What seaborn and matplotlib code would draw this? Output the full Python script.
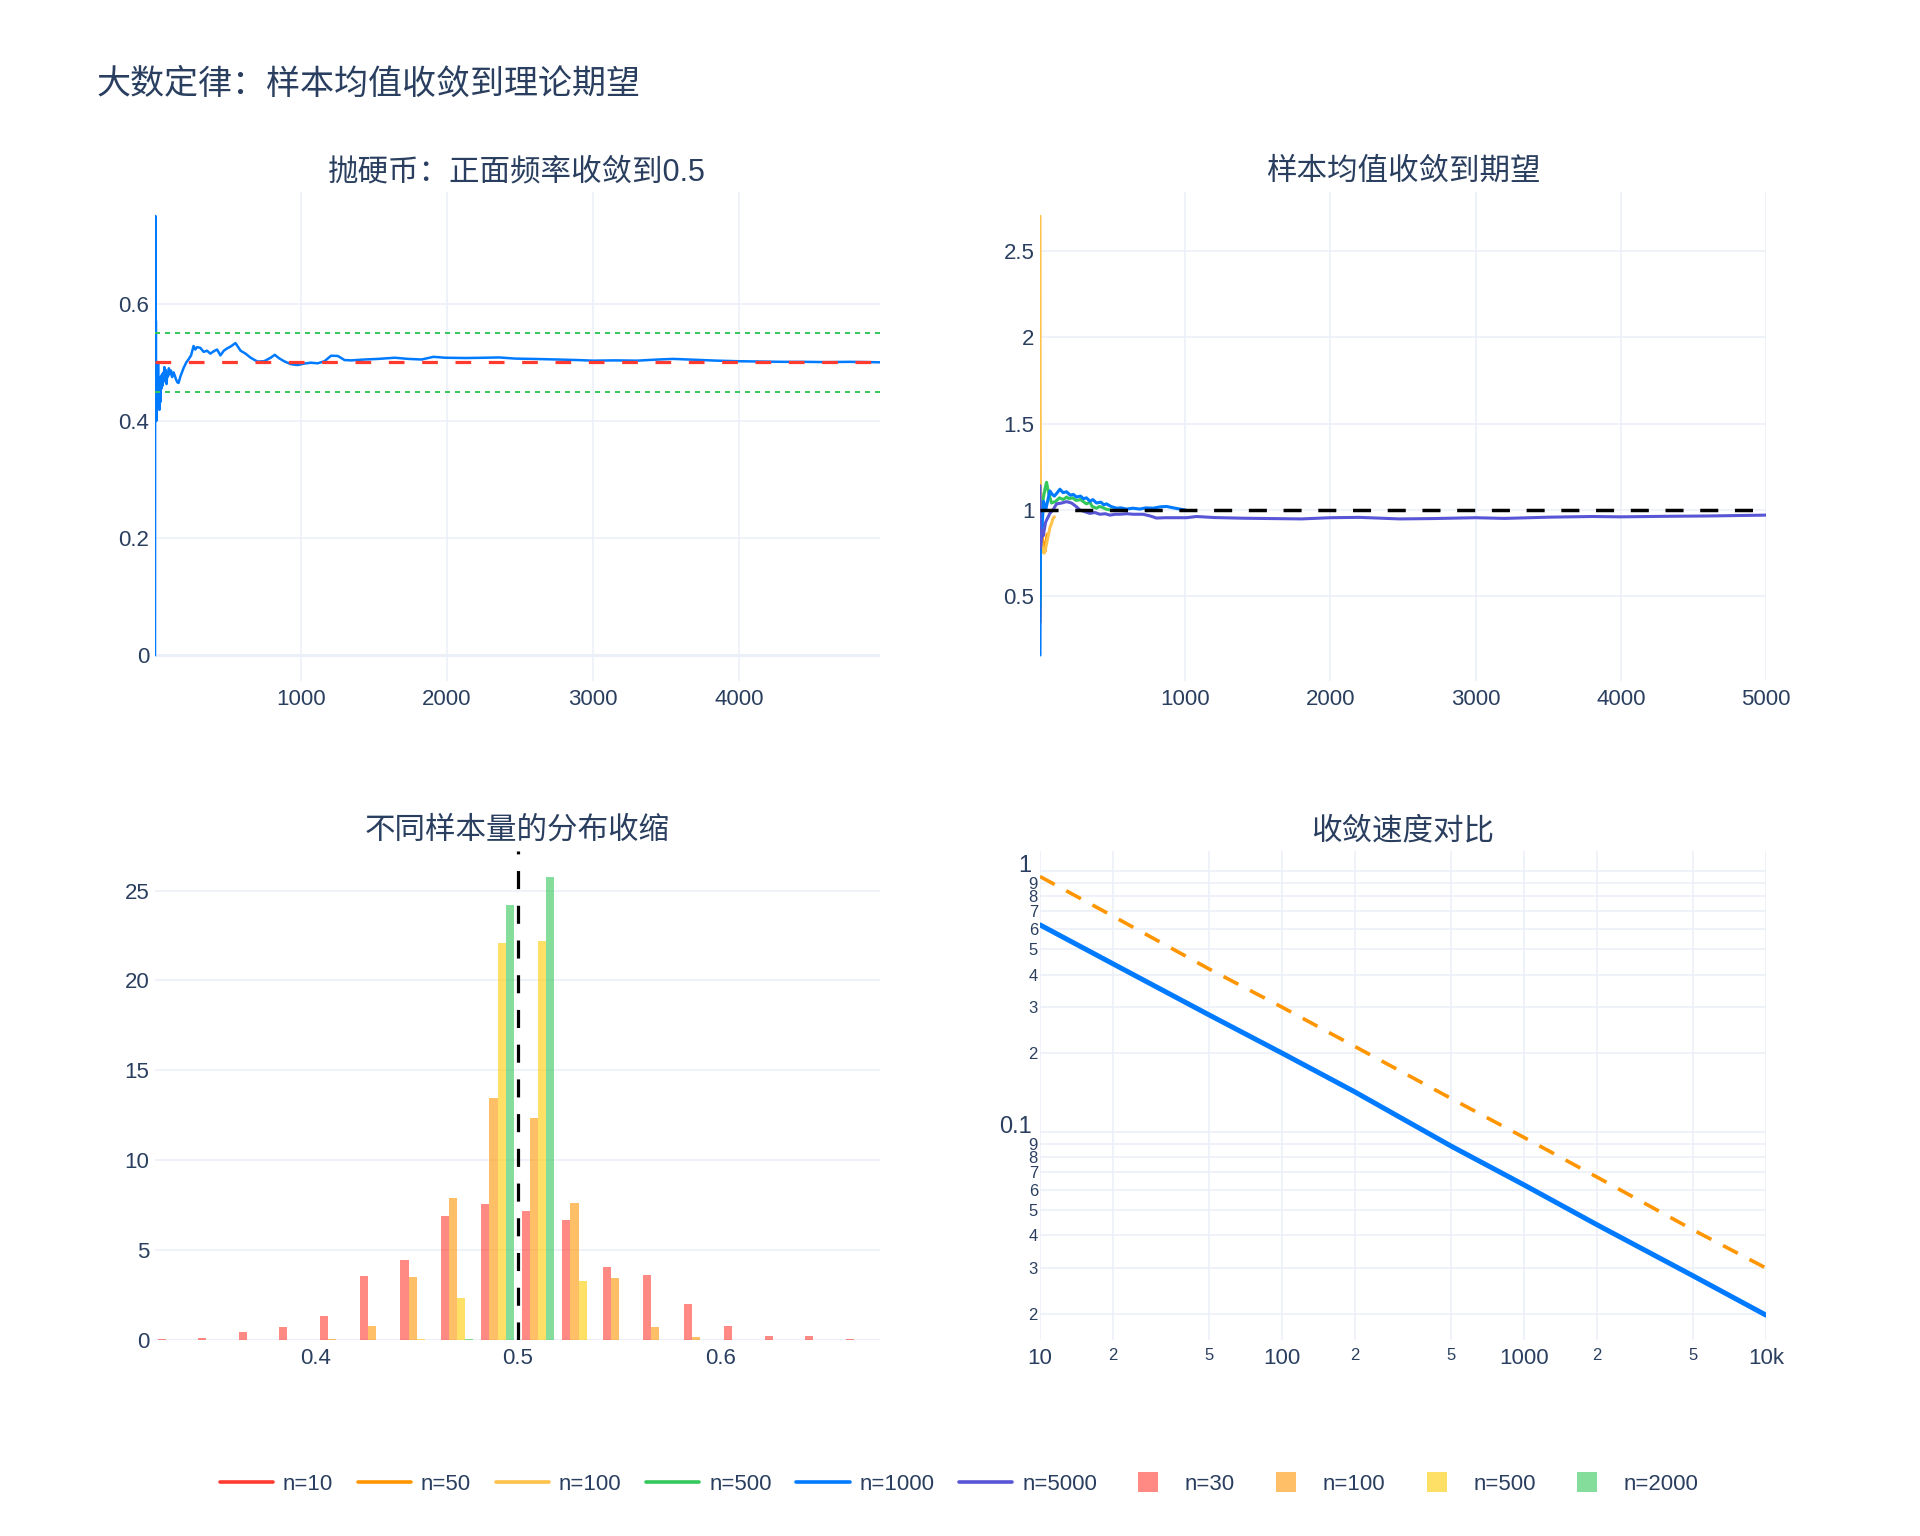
"""
Law of large numbers dashboard: coin-flip frequency, running means,
sampling distributions and convergence rate (2x2 panels, plotly-white look).
"""
import matplotlib
matplotlib.use("Agg")
import matplotlib.pyplot as plt
import matplotlib.transforms as mtransforms
from matplotlib.lines import Line2D
import pandas as pd
import seaborn as sns

# ---------------------------------------------------------------- data
# panel 1: running frequency of heads
coin_n = [
    1, 2, 3, 4, 5, 6, 7, 8, 9, 10,
    11, 12, 13, 14, 15, 16, 18, 20, 22, 24,
    26, 28, 31, 34, 37, 40, 44, 48, 52, 56,
    60, 65, 70, 75, 80, 85, 90, 96, 102, 110,
    118, 127, 136, 145, 154, 162, 175, 196, 215, 230,
    248, 265, 277, 288, 311, 334, 357, 380, 403, 426,
    449, 472, 495, 518, 552, 587, 621, 656, 702, 748,
    793, 821, 851, 885, 931, 977, 1023, 1069, 1115, 1161,
    1207, 1253, 1299, 1345, 1437, 1529, 1643, 1735, 1827, 1907,
    1988, 2126, 2263, 2355, 2470, 2585, 2750, 2900, 3000, 3150,
    3300, 3450, 3550, 3700, 3850, 4000, 4150, 4300, 4450, 4600,
    4750, 4900, 5000]
coin_freq = [
    0.0, 0.5, 0.667, 0.75, 0.6, 0.5, 0.571, 0.5, 0.444, 0.4,
    0.455, 0.417, 0.462, 0.429, 0.467, 0.438, 0.5, 0.45, 0.5, 0.458,
    0.423, 0.464, 0.419, 0.47, 0.432, 0.475, 0.455, 0.479, 0.46, 0.482,
    0.467, 0.492, 0.471, 0.487, 0.463, 0.482, 0.476, 0.49, 0.48, 0.486,
    0.475, 0.483, 0.478, 0.471, 0.466, 0.465, 0.476, 0.49, 0.5, 0.505,
    0.512, 0.528, 0.522, 0.526, 0.525, 0.518, 0.52, 0.515, 0.519, 0.522,
    0.512, 0.52, 0.524, 0.527, 0.533, 0.52, 0.515, 0.508, 0.5015, 0.502,
    0.508, 0.513, 0.507, 0.502, 0.497, 0.4955, 0.498, 0.4995, 0.4985, 0.502,
    0.5115, 0.511, 0.504, 0.5035, 0.505, 0.506, 0.508, 0.506, 0.505, 0.5095,
    0.508, 0.5075, 0.508, 0.5085, 0.5065, 0.506, 0.505, 0.504, 0.503, 0.5035,
    0.503, 0.505, 0.506, 0.5045, 0.503, 0.502, 0.5015, 0.501, 0.501, 0.5005,
    0.501, 0.5005, 0.5]

# panel 2: running sample mean (exponential, E = 1) for several n
mean_n10_x = [1, 2, 3, 4, 5, 6, 7, 8, 9, 10]
mean_n10_y = [0.35, 0.62, 0.9, 0.78, 1.05, 0.95, 0.88, 1.0, 0.93, 0.97]
mean_n50_x = [1, 3, 6, 10, 15, 20, 25, 30, 35, 40, 45, 50]
mean_n50_y = [0.55, 0.9, 1.1, 0.95, 0.88, 0.82, 0.8, 0.78, 0.76, 0.8, 0.83, 0.86]
mean_n100_x = [1, 2, 4, 7, 10, 15, 20, 30, 40, 50, 60, 70, 80, 90, 100]
mean_n100_y = [2.70, 1.6, 1.15, 0.95, 0.85, 0.8, 0.76, 0.75, 0.78, 0.82,
               0.86, 0.9, 0.92, 0.95, 0.96]
mean_n500_x = [1, 3, 6, 10, 20, 35, 46, 60, 80, 110, 135, 161, 185, 200,
               225, 250, 280, 321, 345, 360, 390, 410, 430, 455, 482, 500]
mean_n500_y = [0.44, 0.6, 0.85, 0.95, 1.05, 1.12, 1.16, 1.1, 1.04, 1.05,
               1.07, 1.06, 1.075, 1.065, 1.07, 1.055, 1.06, 1.035, 1.045,
               1.02, 1.01, 1.02, 1.015, 1.005, 1.0, 1.0]
mean_n1000_x = [1, 2, 4, 8, 15, 25, 40, 69, 85, 100, 120, 138, 160, 184,
                210, 230, 252, 280, 300, 321, 345, 365, 390, 420, 440, 459,
                490, 528, 560, 596, 640, 688, 730, 780, 830, 872, 920, 963,
                1000]
mean_n1000_y = [0.16, 0.45, 0.8, 0.95, 0.9, 1.05, 1.0, 1.11, 1.09, 1.08,
                1.1, 1.12, 1.1, 1.105, 1.085, 1.09, 1.075, 1.08, 1.065,
                1.07, 1.05, 1.06, 1.04, 1.045, 1.03, 1.035, 1.02, 1.01,
                1.012, 1.005, 1.01, 1.005, 1.012, 1.01, 1.018, 1.02, 1.012,
                1.005, 1.0]
mean_n5000_x = [1, 3, 8, 15, 23, 40, 69, 90, 115, 150, 184, 218, 250, 275,
                310, 344, 380, 413, 450, 482, 520, 551, 600, 643, 711, 760,
                803, 860, 918, 1010, 1079, 1200, 1400, 1600, 1800, 2000,
                2200, 2477, 2700, 3000, 3200, 3500, 3800, 4000, 4300, 4600,
                5000]
mean_n5000_y = [1.14, 0.78, 0.8, 0.88, 0.85, 0.93, 0.98, 1.0, 1.035, 1.04,
                1.048, 1.04, 1.02, 1.0, 0.99, 0.98, 0.985, 0.975, 0.978,
                0.97, 0.975, 0.975, 0.978, 0.975, 0.975, 0.965, 0.953,
                0.955, 0.955, 0.955, 0.962, 0.956, 0.952, 0.95, 0.948,
                0.955, 0.957, 0.948, 0.95, 0.955, 0.951, 0.958, 0.962,
                0.96, 0.963, 0.965, 0.97]

# panel 3: density histograms of the sample proportion
hist_centers = [0.33, 0.35, 0.37, 0.39, 0.41, 0.43, 0.45, 0.47, 0.49,
                0.51, 0.53, 0.55, 0.57, 0.59, 0.61, 0.63, 0.65, 0.67]
hist_n30 = [0.05, 0.11, 0.44, 0.72, 1.35, 3.56, 4.46, 6.87, 7.59,
            7.17, 6.67, 4.06, 3.63, 1.98, 0.76, 0.24, 0.20, 0.05]
hist_n100 = [0, 0, 0, 0, 0.05, 0.78, 3.48, 7.91, 13.46,
             12.33, 7.63, 3.43, 0.70, 0.15, 0, 0, 0, 0]
hist_n500 = [0, 0, 0, 0, 0, 0, 0.04, 2.33, 22.07,
             22.19, 3.28, 0, 0, 0, 0, 0, 0, 0]
hist_n2000 = [0, 0, 0, 0, 0, 0, 0, 0.05, 24.22,
              25.78, 0, 0, 0, 0, 0, 0, 0, 0]

# panel 4: standard error vs n (log-log)
conv_n = [10, 20, 50, 100, 200, 500, 1000, 2000, 5000, 10000]
conv_empirical = [0.62, 0.44, 0.28, 0.2, 0.142, 0.088, 0.0625, 0.044, 0.028, 0.0198]
conv_theory = [0.95, 0.67, 0.42, 0.30, 0.212, 0.134, 0.095, 0.067, 0.042, 0.030]

# ---------------------------------------------------------------- style
TEXT = "#2a3f5f"
GRID = "#EBF0F8"
RED, ORANGE, YELLOW = "#FF3B30", "#FF9500", "#FFCC00"
LIGHT_ORANGE, GREEN, BLUE, PURPLE = "#FFC24B", "#34C759", "#007AFF", "#5856D6"

sns.set_theme(style="white")
plt.rcParams["font.family"] = ["Liberation Sans", "Noto Sans CJK SC"]
plt.rcParams["lines.scale_dashes"] = False
plt.rcParams["axes.unicode_minus"] = False

W, H = 1920, 1536
fig = plt.figure(figsize=(W / 100, H / 100), dpi=100)


def panel(x0, y0, x1, y1):
    ax = fig.add_axes([x0 / W, 1 - y1 / H, (x1 - x0) / W, (y1 - y0) / H])
    for s in ax.spines.values():
        s.set_visible(False)
    ax.grid(True, which="both", color=GRID, lw=1.1)
    ax.set_axisbelow(True)
    ax.tick_params(which="both", length=0, colors=TEXT, labelsize=16)
    ax.tick_params(axis="x", which="both", pad=6)
    ax.tick_params(axis="y", which="both", pad=4)
    return ax


ax1 = panel(155, 192, 880, 681)
ax2 = panel(1040, 192, 1766, 681)
ax3 = panel(155, 851, 880, 1340)
ax4 = panel(1040, 851, 1766, 1340)

# ---------------------------------------------------------------- panel 1
ax1.axhline(0, color=GRID, lw=2.2, zorder=0.5)
sns.lineplot(x=coin_n, y=coin_freq, ax=ax1, color=BLUE, lw=1.8,
             estimator=None, sort=False)
ax1.axhline(0.5, color=RED, lw=2.3, dashes=(11.3, 12.7))
ax1.axhline(0.55, color=GREEN, lw=1.4, dashes=(3.6, 3.6))
ax1.axhline(0.45, color=GREEN, lw=1.4, dashes=(3.6, 3.6))
ax1.set_xlim(1, 4965)
ax1.set_ylim(-0.044, 0.791)
ax1.set_xticks([1000, 2000, 3000, 4000], ["1000", "2000", "3000", "4000"])
ax1.set_yticks([0, 0.2, 0.4, 0.6], ["0", "0.2", "0.4", "0.6"])

# ---------------------------------------------------------------- panel 2
mean_series = [
    ("n=10", mean_n10_x, mean_n10_y, RED),
    ("n=50", mean_n50_x, mean_n50_y, ORANGE),
    ("n=100", mean_n100_x, mean_n100_y, LIGHT_ORANGE),
    ("n=500", mean_n500_x, mean_n500_y, GREEN),
    ("n=1000", mean_n1000_x, mean_n1000_y, BLUE),
    ("n=5000", mean_n5000_x, mean_n5000_y, PURPLE),
]
for label, xs, ys, c in mean_series:
    sns.lineplot(x=xs, y=ys, ax=ax2, color=c, lw=2.2, estimator=None, sort=False)
ax2.axhline(1.0, color="black", lw=2.5, dashes=(13, 12))
ax2.set_xlim(1, 5000)
ax2.set_ylim(0.01, 2.84)
ax2.set_xticks([1000, 2000, 3000, 4000, 5000],
               ["1000", "2000", "3000", "4000", "5000"])
ax2.set_yticks([0.5, 1, 1.5, 2, 2.5], ["0.5", "1", "1.5", "2", "2.5"])

# ---------------------------------------------------------------- panel 3
hist_labels = ["n=30", "n=100", "n=500", "n=2000"]
hist_colors = [RED, ORANGE, YELLOW, GREEN]
hist_df = pd.concat([
    pd.DataFrame({"center": hist_centers, "density": vals, "n": lab})
    for lab, vals in zip(hist_labels, [hist_n30, hist_n100, hist_n500, hist_n2000])
])
ax3.axhline(0, color=GRID, lw=2.2, zorder=0.5)
sns.barplot(data=hist_df, x="center", y="density", hue="n",
            hue_order=hist_labels, palette=hist_colors, native_scale=True,
            width=0.8, saturation=1, alpha=0.6, linewidth=0, legend=False,
            errorbar=None, ax=ax3)
ax3.axvline(0.5, color="black", lw=2.3, dashes=(13, 12))
ax3.set_xlim(0.3207, 0.679)
ax3.set_ylim(0, 27.2)
ax3.set_xticks([0.4, 0.5, 0.6], ["0.4", "0.5", "0.6"])
ax3.set_yticks([0, 5, 10, 15, 20, 25], ["0", "5", "10", "15", "20", "25"])
ax3.grid(False, axis="x")
ax3.set_xlabel("")
ax3.set_ylabel("")

# ---------------------------------------------------------------- panel 4
ax4.set_xscale("log")
ax4.set_yscale("log")
sns.lineplot(x=conv_n, y=conv_theory, ax=ax4, color=ORANGE, lw=2.6,
             dashes=False, estimator=None, sort=False).lines[-1].set_dashes((12, 9.5))
sns.lineplot(x=conv_n, y=conv_empirical, ax=ax4, color=BLUE, lw=3.6,
             estimator=None, sort=False)
ax4.set_xlim(10, 10000)
ax4.set_ylim(0.0159, 1.19)
ax4.set_xticks([10, 100, 1000, 10000], ["10", "100", "1000", "10k"])
ax4.set_xticks([20, 50, 200, 500, 2000, 5000],
               ["2", "5", "2", "5", "2", "5"], minor=True)
ax4.set_yticks([0.1, 1], ["0.1", "1"])
minor_y = [d * m for m in (0.01, 0.1) for d in range(2, 10)]
ax4.set_yticks(minor_y, [str(d) for _ in range(2) for d in range(2, 10)], minor=True)
ax4.tick_params(axis="x", which="minor", labelsize=12)
ax4.tick_params(axis="y", which="minor", labelsize=12, pad=1.5)
ax4.tick_params(axis="y", which="major", labelsize=17, pad=6)
# decade labels sit a little above their gridline, clear of the "9" label
lift = mtransforms.ScaledTranslation(0, 7 / 100, fig.dpi_scale_trans)
for lbl in ax4.get_yticklabels():
    lbl.set_transform(lbl.get_transform() + lift)

for ax in (ax1, ax2, ax4):
    ax.set_xlabel("")
    ax.set_ylabel("")

# ---------------------------------------------------------------- titles
fig.text(97 / W, 1 - 85 / H, "大数定律：样本均值收敛到理论期望",
         fontsize=24.5, color=TEXT, ha="left", va="center")
subtitles = [
    (517, 172, "抛硬币：正面频率收敛到0.5"),
    (1403, 172, "样本均值收敛到期望"),
    (517, 831, "不同样本量的分布收缩"),
    (1403, 831, "收敛速度对比"),
]
for x, y, t in subtitles:
    fig.text(x / W, 1 - y / H, t, fontsize=22, color=TEXT, ha="center", va="center")

# ---------------------------------------------------------------- legend
handles = [Line2D([0], [0], color=c, lw=2.6) for _, _, _, c in mean_series]
handles += [Line2D([0], [0], marker="s", ms=15, ls="none", color=c,
                   alpha=0.6, markeredgewidth=0) for c in hist_colors]
labels = [s[0] for s in mean_series] + hist_labels
fig.legend(handles, labels, loc="center", bbox_to_anchor=(959 / W, 1 - 1484 / H),
           ncol=10, frameon=False, fontsize=16, handlelength=2.4,
           handletextpad=0.45, columnspacing=1.1, labelcolor=TEXT)

fig.savefig("out.png", dpi=100)
